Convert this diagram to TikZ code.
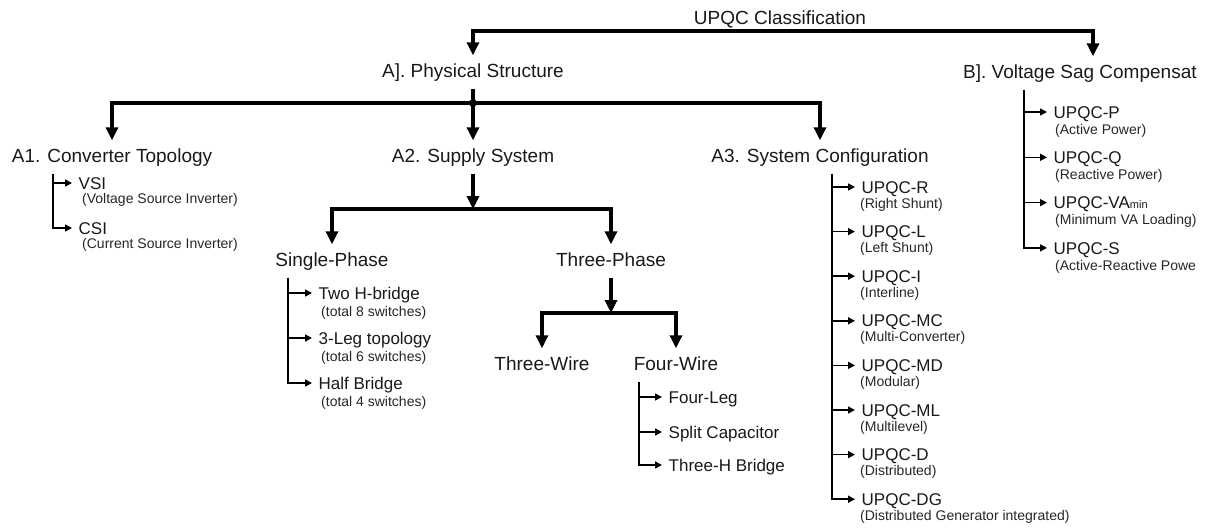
\documentclass[tikz,border=0pt]{standalone}
\usepackage{fontspec}
\setmainfont{Liberation Sans}
\usetikzlibrary{arrows.meta,positioning}

\tikzset{
  head/.style={font=\fontsize{19}{22}\selectfont, text=black!90, anchor=base,
    inner xsep=2pt, inner ysep=7.5pt, text height=14pt, text depth=4pt},
  item/.style={font=\fontsize{17}{20}\selectfont, text=black!90, anchor=west,
    inner xsep=6.5pt, inner ysep=2pt, text height=12.2pt, text depth=0pt},
  note/.style={font=\fontsize{14}{16}\selectfont, text=black!85, anchor=west, inner sep=0pt},
  bigline/.style={draw, line width=3.2pt},
  bigarrow/.style={bigline, -{Triangle[width=12pt,length=13pt]}},
  tiparrow/.style={draw, line width=1.6pt, -{Triangle[width=7pt,length=7pt]}},
}

\begin{document}
\begin{tikzpicture}[x=1pt,y=-1pt]
\useasboundingbox (0,0) rectangle (1211,530);

% top level
\node[head] (ttl) at (780,24) {UPQC Classification};
\node[head] (phys) at (473,77) {A]. Physical Structure};
\node[head, anchor=base west] (sag) at (961,78) {B]. Voltage Sag Compensat};
\coordinate (ttlbar) at (780,31);
\coordinate (btip) at (1093,0);
\draw[bigarrow] (ttlbar) -| (phys.north);
\draw[bigarrow] (ttlbar) -| (btip |- sag.north);

% A] physical structure
\node[head] (a1) at (112,162) {A1. Converter Topology};
\node[head] (a2) at (473,162) {A2. Supply System};
\node[head] (a3) at (820,162) {A3. System Configuration};
\coordinate (psbar) at (473,103);
\draw[bigline] (phys.south) -- (psbar);
\fill (psbar) circle (4pt);
\draw[bigarrow] (psbar) -| (a1.north);
\draw[bigarrow] (psbar) -- (a2.north);
\draw[bigarrow] (psbar) -| (a3.north);

% A1 list
\coordinate (a1t) at (53,0);
\foreach \Name/\Item/\Note [count=\i from 0] in {vsi/VSI/Voltage Source Inverter, csi/CSI/Current Source Inverter}{
    \node[item] (\Name) at (72,183+45*\i) {\Item};
    \node[note] (\Name-n) at (82,200+45*\i) {(\Note)};
}
\draw[tiparrow] (a1t |- vsi.west) -- (vsi.west);
\draw[tiparrow] (a1.south -| a1t) |- (csi.west);

% A2 supply system
\node[head] (single) at (332,266) {Single-Phase};
\node[head] (three) at (611,266) {Three-Phase};
\coordinate (a2bar) at (473,209);
\draw[bigarrow] (a2.south) -- (a2bar);
\draw[bigarrow] (a2bar) -| (single.north);
\draw[bigarrow] (a2bar) -| (three.north);

\coordinate (spt) at (288,0);
\foreach \Name/\Item/\Note [count=\i from 0] in {hb/Two H-bridge/total 8 switches, leg/3-Leg topology/total 6 switches, half/Half Bridge/total 4 switches}{
    \node[item] (\Name) at (312,293+45*\i) {\Item};
    \node[note] (\Name-n) at (321,313+45*\i) {(\Note)};
}
\foreach \Name in {hb,leg}
    \draw[tiparrow] (spt |- \Name.west) -- (\Name.west);
\draw[tiparrow] (single.south -| spt) |- (half.west);

\node[head] (twire) at (542,370) {Three-Wire};
\node[head] (fwire) at (676,370) {Four-Wire};
\coordinate (tpbar) at (611,313);
\draw[bigarrow] (three.south) -- (tpbar);
\draw[bigarrow] (tpbar) -| (twire.north);
\draw[bigarrow] (tpbar) -| (fwire.north);

\coordinate (fwt) at (639,0);
\foreach \Name/\Item/\Y in {fleg/Four-Leg/397, scap/Split Capacitor/432, thb/Three-H Bridge/465}{
    \node[item] (\Name) at (662,\Y) {\Item};
}
\foreach \Name in {fleg,scap}
    \draw[tiparrow] (fwt |- \Name.west) -- (\Name.west);
\draw[tiparrow] (fwire.south -| fwt) |- (thb.west);

% A3 list
\coordinate (a3t) at (832,0);
\foreach \Name/\Item/\Note [count=\i from 0] in {upr/UPQC-R/Right Shunt, upl/UPQC-L/Left Shunt, upi/UPQC-I/Interline,
    upmc/UPQC-MC/Multi-Converter, upmd/UPQC-MD/Modular, upml/UPQC-ML/Multilevel,
    upd/UPQC-D/Distributed, updg/UPQC-DG/Distributed Generator integrated}{
    \node[item] (\Name) at (855,187+44.6*\i) {\Item};
    \node[note] (\Name-n) at (860,204.5+44.6*\i) {(\Note)};
}
\foreach \Name in {upr,upl,upi,upmc,upmd,upml,upd}
    \draw[tiparrow] (a3t |- \Name.west) -- (\Name.west);
\draw[tiparrow] (a3.south -| a3t) |- (updg.west);

% B] voltage sag compensation
\coordinate (bt) at (1024,0);
\foreach \Name/\Item/\Note [count=\i from 0] in {upp/UPQC-P/(Active Power), upq/UPQC-Q/(Reactive Power),
    upva/{UPQC-VA{\fontsize{11}{11}\selectfont min}}/(Minimum VA Loading), ups/UPQC-S/(Active-Reactive Powe}{
    \node[item] (\Name) at (1047,112+45.3*\i) {\Item};
    \node[note] (\Name-n) at (1055,130.5+45.3*\i) {\Note};
}
\foreach \Name in {upp,upq,upva}
    \draw[tiparrow] (bt |- \Name.west) -- (\Name.west);
\draw[tiparrow] (sag.south -| bt) |- (ups.west);
\end{tikzpicture}
\end{document}
